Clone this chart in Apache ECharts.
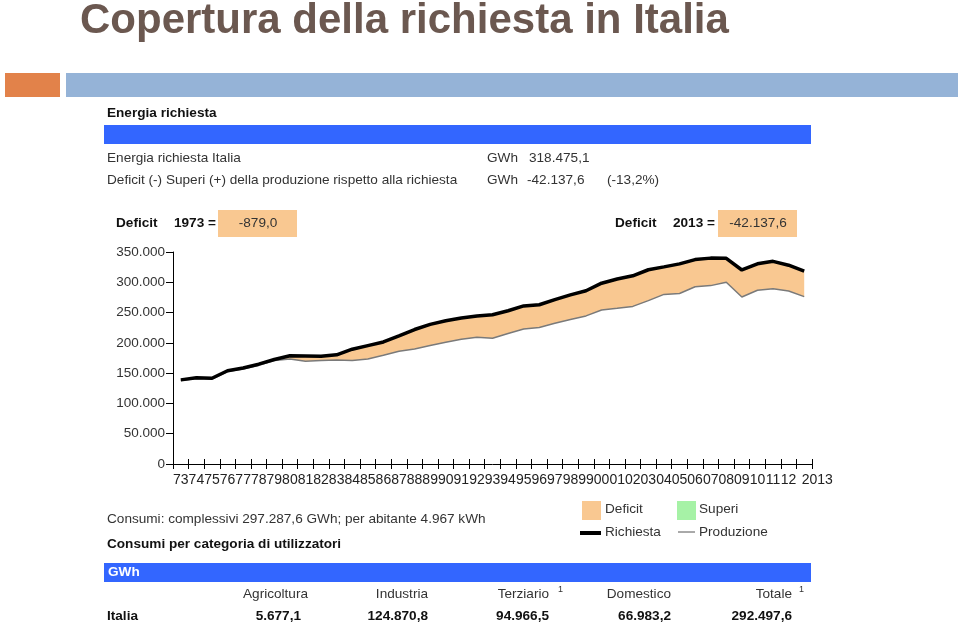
<!DOCTYPE html>
<html><head><meta charset="utf-8">
<script src="https://cdn.jsdelivr.net/npm/echarts@6/dist/echarts.min.js"></script>
<style>html,body{margin:0;padding:0;background:#fff}#c{width:960px;height:627px}</style>
</head><body><div id="c"></div>
<script>
// ---- data ----
const yearLabels = ['73','74','75','76','77','78','79','80','81','82','83','84','85','86','87','88','89','90','91','92','93','94','95','96','97','98','99','00','01','02','03','04','05','06','07','08','09','10','11','12','2013'];
// GWh
const richiesta = [138900,142400,141500,154000,158500,164800,172600,178600,178300,177900,180300,189500,195500,201500,211500,222000,230500,236500,241000,244400,246500,253000,261000,262900,271400,279300,286000,298500,305400,310700,320700,325400,330400,337500,339900,339500,320300,330500,334600,328200,318475];
const produzione = [138021,141000,140300,152600,156800,163000,170800,173500,169800,171000,171500,170800,173500,179500,186000,190000,195500,201000,206000,209300,207500,215500,223000,225500,232500,238700,244500,254200,257000,260200,269700,280000,281500,292600,294500,300000,275800,286800,289200,285600,276338];
const yMax = 350000, yStep = 50000;
const infoLabels = ['Energia richiesta Italia','Deficit (-) Superi (+) della produzione rispetto alla richiesta'];
const infoValues = ['318.475,1','-42.137,6'];
const deficitYears = ['1973','2013'];
const deficitValues = ['-879,0','-42.137,6'];
const tableHeaders = ['Agricoltura','Industria','Terziario','Domestico','Totale'];
const tableValues = ['5.677,1','124.870,8','94.966,5','66.983,2','292.497,6'];

const deficit = richiesta.map((v,i)=>v-produzione[i]);
const fmt = v => String(v).replace(/\B(?=(\d{3})+(?!\d))/g,'.');
const F = 'Liberation Sans, Arial, sans-serif';
const ORANGE = '#F9C891';

function txt(x,y,s,o){
  o=o||{};
  const el = {type:'text',x:x,y:y,silent:true,style:{text:s,fill:o.color||'#333',font:(o.bold?'bold ':'')+(o.size||13.6)+'px '+(o.family||F),textAlign:o.align||'left',textVerticalAlign:o.valign||'middle'}};
  if(o.scaleX) el.scaleX=o.scaleX;
  if(o.scaleY) el.scaleY=o.scaleY;
  return el;
}
const g = [];
g.push(txt(80,1,'Copertura della richiesta in Italia',{bold:true,size:40,color:'#6B5850',valign:'top',scaleX:1.05,scaleY:1.04}));
g.push({type:'rect',shape:{x:5,y:73,width:55,height:24},style:{fill:'#E2824A'}});
g.push({type:'rect',shape:{x:66,y:73,width:892,height:24},style:{fill:'#95B3D7'}});
g.push(txt(107,113,'Energia richiesta',{bold:true,color:'#111'}));
g.push({type:'rect',shape:{x:104,y:125,width:707,height:19},style:{fill:'#3366FF'}});
g.push(txt(107,158,infoLabels[0]));
g.push(txt(487,158,'GWh'));
g.push(txt(529,158,infoValues[0]));
g.push(txt(107,180,infoLabels[1]));
g.push(txt(487,180,'GWh'));
g.push(txt(527,180,infoValues[1]));
g.push(txt(607,180,'(-13,2%)'));
// deficit boxes
[[116,218],[615,718]].forEach((p,i)=>{
  g.push(txt(p[0],223,'Deficit',{bold:true,color:'#111'}));
  g.push(txt(p[0]+58,223,deficitYears[i]+' =',{bold:true,color:'#111'}));
  g.push({type:'rect',shape:{x:p[1],y:210,width:79,height:27},style:{fill:ORANGE}});
  g.push(txt(p[1]+40,223,deficitValues[i],{align:'center'}));
});
// lower texts
g.push(txt(107,519,'Consumi: complessivi 297.287,6 GWh; per abitante 4.967 kWh'));
g.push(txt(107,544,'Consumi per categoria di utilizzatori',{bold:true,color:'#111'}));
// legend
g.push({type:'rect',shape:{x:582,y:501,width:19,height:19},style:{fill:ORANGE}});
g.push(txt(605,509,'Deficit'));
g.push({type:'rect',shape:{x:677,y:501,width:19,height:19},style:{fill:'#A6F2A6'}});
g.push(txt(699,509,'Superi'));
g.push({type:'rect',shape:{x:580,y:531,width:21,height:4},style:{fill:'#000'}});
g.push(txt(605,532,'Richiesta'));
g.push({type:'line',shape:{x1:678,y1:532,x2:695,y2:532},style:{stroke:'#555',lineWidth:1}});
g.push(txt(699,532,'Produzione'));
// table
g.push({type:'rect',shape:{x:104,y:563,width:707,height:19},style:{fill:'#3366FF'}});
g.push(txt(108,572,'GWh',{bold:true,color:'#fff'}));
const hdrRight = [308,428,549,671,792];
const valRight = [301,428,549,671,792];
tableHeaders.forEach((h,i)=>{
  g.push(txt(hdrRight[i],594,h,{align:'right'}));
  g.push(txt(valRight[i],616,tableValues[i],{align:'right',bold:true,color:'#111'}));
});
g.push(txt(558,590,'1',{size:9}));
g.push(txt(799,590,'1',{size:9}));
g.push(txt(107,616,'Italia',{bold:true,color:'#111'}));

const chart = echarts.init(document.getElementById('c'),null,{renderer:'canvas'});
const xBase = {type:'category',data:yearLabels,boundaryGap:true,position:'bottom'};
chart.setOption({
  animation:false,
  backgroundColor:'#fff',
  grid:{left:173,right:148,top:252,bottom:163,containLabel:false},
  xAxis:[
    Object.assign({},xBase,{
      axisLine:{show:true,lineStyle:{color:'#000',width:1}},
      axisTick:{show:true,interval:0,length:5,lineStyle:{color:'#000'}},
      axisLabel:{interval:0,hideOverlap:false,fontSize:14,color:'#222',fontFamily:F,margin:9,
        formatter:v=> v==='2013' ? '{y|2013}' : v,
        rich:{y:{fontSize:14,color:'#222',fontFamily:F,padding:[0,0,0,26]}}},
      splitLine:{show:false}
    }),
    Object.assign({},xBase,{
      axisLine:{show:false},
      axisTick:{show:true,inside:true,interval:0,length:5,lineStyle:{color:'#000'}},
      axisLabel:{show:false},splitLine:{show:false}
    })
  ],
  yAxis:{type:'value',min:0,max:yMax,interval:yStep,
    axisLine:{show:true,lineStyle:{color:'#000'}},
    axisTick:{show:true,length:7,lineStyle:{color:'#000'}},
    axisLabel:{fontSize:13.5,color:'#333',fontFamily:F,margin:8,formatter:fmt},
    splitLine:{show:false}},
  series:[
    {name:'base',type:'line',stack:'d',data:produzione,symbol:'none',lineStyle:{width:0},areaStyle:{opacity:0},silent:true},
    {name:'Deficit',type:'line',stack:'d',data:deficit,symbol:'none',lineStyle:{width:0},areaStyle:{color:ORANGE,opacity:1},silent:true},
    {name:'Produzione',type:'line',data:produzione,symbol:'none',lineStyle:{color:'#7a7a7a',width:1.5},silent:true},
    {name:'Richiesta',type:'line',data:richiesta,symbol:'none',lineStyle:{color:'#000',width:3.5},silent:true}
  ],
  graphic:g
});
</script></body></html>
